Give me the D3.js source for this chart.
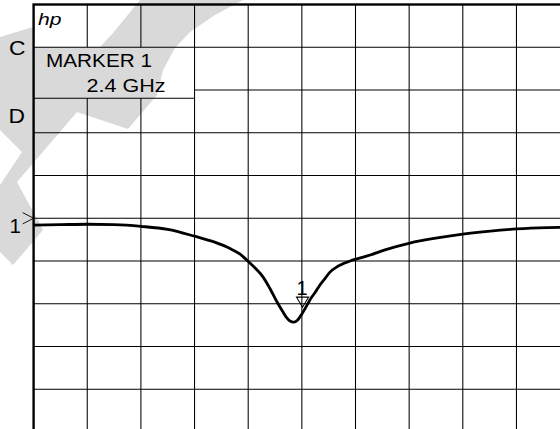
<!DOCTYPE html>
<html><head><meta charset="utf-8">
<script src="https://cdn.jsdelivr.net/npm/d3@7"></script>
<style>html,body{margin:0;padding:0;background:#fff;overflow:hidden}svg{display:block}text{font-family:"Liberation Sans",Arial,sans-serif;fill:#000}</style>
</head><body>
<script>
// Trace: frequency (GHz) and level (dB, 10 dB/div, ref level = 0 dB)
const freqs = [2.000,2.040,2.080,2.120,2.160,2.200,2.240,2.270,2.293,2.308,2.318,2.330,2.342,2.353,2.363,2.371,2.377,2.382,2.388,2.393,2.397,2.400,2.406,2.412,2.420,2.427,2.435,2.442,2.453,2.462,2.472,2.482,2.502,2.524,2.561,2.602,2.640,2.681,2.721,2.767,2.800];
const levels = [-1.6,-1.5,-1.4,-1.5,-1.9,-2.6,-4.2,-5.6,-7.1,-8.4,-9.8,-11.6,-13.7,-16.6,-19.6,-21.7,-23.2,-24.0,-24.3,-23.9,-23.1,-22.4,-20.8,-19.1,-17.3,-15.6,-14.0,-12.6,-11.3,-10.6,-10.0,-9.5,-8.6,-7.4,-5.8,-4.6,-3.7,-3.0,-2.5,-2.2,-2.1];
const freqStart = 2.0, freqStop = 2.8;
const refLevel = 0, dbPerDiv = 10, divisions = 10;
const markerFreq = 2.4, markerLevel = -20.8, markerLabel = "1";
const markerText = ["MARKER 1", "2.4 GHz"];
const sideLabels = ["C", "D"];

const W = 560, H = 429;
const svg = d3.select("body").append("svg").attr("width", W).attr("height", H);

const x = d3.scaleLinear().domain([freqStart, freqStop]).range([33.6, 570.1]);
const y = d3.scaleLinear().domain([refLevel + 5*dbPerDiv, refLevel - 5*dbPerDiv]).range([4.5, 432]);

// watermark (decorative background)
svg.append("path")
  .attr("d","M140,0 L243,0 L215,15 L190,32 L175,48 L163,70 L157,95 L128,129 L77,112 L17,182 L43,230 L13,265 L0,252 L0,185 L22,152 L0,130 L0,37 L33,27 L33,47 L100,47 L113,33 Z")
  .attr("fill","#d9d9d9");

// grid
const fTicks = d3.range(divisions+1).map(i => freqStart + i*(freqStop-freqStart)/divisions);
const dTicks = d3.range(divisions+1).map(i => refLevel + (5 - i)*dbPerDiv);
const box = {x0: x(freqStart), x1: x(fTicks[3]), y0: y(dTicks[1]), y1: 98.25};
const g = svg.append("g").attr("stroke","#000").attr("stroke-width",1.05);
fTicks.slice(1,-1).forEach((f,i) => {
  const xx = x(f);
  if (xx < box.x1 - 1) {
    g.append("line").attr("x1",xx).attr("x2",xx).attr("y1",y(dTicks[0])).attr("y2",box.y0);
    g.append("line").attr("x1",xx).attr("x2",xx).attr("y1",box.y1).attr("y2",y(dTicks[10]));
  } else {
    g.append("line").attr("x1",xx).attr("x2",xx).attr("y1",y(dTicks[0])).attr("y2",y(dTicks[10]));
  }
});
dTicks.slice(1,-1).forEach(d => {
  const yy = y(d);
  const inBox = yy > box.y0 + 1 && yy < box.y1;
  g.append("line").attr("x1", inBox ? box.x1 : x(freqStart)).attr("x2",x(freqStop)).attr("y1",yy).attr("y2",yy);
});
// marker box bottom
g.append("line").attr("x1",box.x0).attr("x2",box.x1).attr("y1",box.y1).attr("y2",box.y1);
// frame
svg.append("rect").attr("x",x(freqStart)).attr("y",y(dTicks[0])).attr("width",x(freqStop)-x(freqStart)).attr("height",y(dTicks[10])-y(dTicks[0]))
  .attr("fill","none").attr("stroke","#000").attr("stroke-width",2.4);

// texts
svg.append("text").attr("x",38).attr("y",24.5).attr("font-size",17).attr("font-style","italic")
  .attr("textLength",23.5).attr("lengthAdjust","spacingAndGlyphs").text("hp");
svg.append("text").attr("x",9).attr("y",55).attr("font-size",20).attr("textLength",16.5).attr("lengthAdjust","spacingAndGlyphs").text(sideLabels[0]);
svg.append("text").attr("x",8.5).attr("y",122.5).attr("font-size",20).attr("textLength",16.5).attr("lengthAdjust","spacingAndGlyphs").text(sideLabels[1]);
svg.append("text").attr("x",46).attr("y",66.7).attr("font-size",19).attr("textLength",106).attr("lengthAdjust","spacingAndGlyphs").text(markerText[0]);
svg.append("text").attr("x",86.5).attr("y",91.5).attr("font-size",19).attr("textLength",79).attr("lengthAdjust","spacingAndGlyphs").text(markerText[1]);

// reference level indicator
svg.append("text").attr("x",9.5).attr("y",233).attr("font-size",20.5).text("1");
const ry = y(refLevel);
svg.append("path").attr("d",`M22.7,${ry-5.6} L${x(freqStart)},${ry} L22.7,${ry+5.6}`)
  .attr("fill","none").attr("stroke","#000").attr("stroke-width",0.9);

// trace
const data = freqs.map((f,i) => [f, levels[i]]);
svg.append("path").datum(data)
  .attr("d", d3.line().x(d => x(d[0])).y(d => y(d[1])).curve(d3.curveMonotoneX))
  .attr("fill","none").attr("stroke","#000").attr("stroke-width",2.8).attr("stroke-linejoin","round");

// marker
const mx = x(markerFreq) + 0.7, my = y(markerLevel);
svg.append("path").attr("d",`M${mx-6},${my-10} L${mx+6},${my-10} L${mx},${my} Z`)
  .attr("fill","none").attr("stroke","#000").attr("stroke-width",1.1);
svg.append("text").attr("x",mx-0.5).attr("y",my-12).attr("font-size",20).attr("text-anchor","middle").text(markerLabel);
</script>
</body></html>
